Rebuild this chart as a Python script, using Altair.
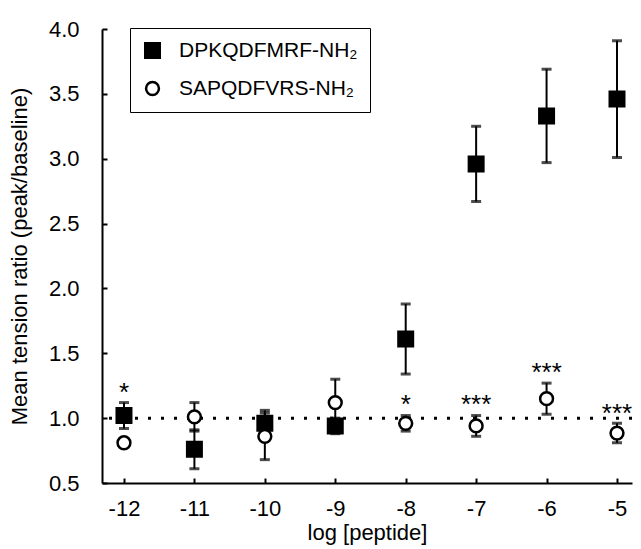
import altair as alt
import pandas as pd

# ---- data ----
log_conc = [-12, -11, -10, -9, -8, -7, -6, -5]
dpk_name = "DPKQDFMRF-NH\u2082"
sap_name = "SAPQDFVRS-NH\u2082"
dpk_mean = [1.02, 0.76, 0.96, 0.94, 1.61, 2.96, 3.33, 3.46]
dpk_sem = [0.10, 0.15, 0.10, 0.06, 0.27, 0.29, 0.36, 0.45]
sap_mean = [0.81, 1.01, 0.86, 1.12, 0.96, 0.94, 1.15, 0.885]
sap_sem = [0.03, 0.11, 0.18, 0.18, 0.06, 0.08, 0.12, 0.075]
star_x = [-12, -8, -7, -6, -5]
star_y = [1.23, 1.14, 1.14, 1.39, 1.07]
star_text = ["*", "*", "***", "***", "***"]
y_ticks = [0.5, 1.0, 1.5, 2.0, 2.5, 3.0, 3.5, 4.0]
baseline = [1.0]

rows = []
for i, x in enumerate(log_conc):
    rows.append({"log": x, "mean": dpk_mean[i], "sem": dpk_sem[i], "series": dpk_name})
for i, x in enumerate(log_conc):
    rows.append({"log": x, "mean": sap_mean[i], "sem": sap_sem[i], "series": sap_name})
df = pd.DataFrame(rows)
df["lo"] = df["mean"] - df["sem"]
df["hi"] = df["mean"] + df["sem"]
df["order"] = range(len(df))

stars = pd.DataFrame({"log": star_x, "y": star_y, "txt": star_text})
base_df = pd.DataFrame({"y": baseline})

FONT = "Liberation Sans"
W, H = 530, 454
xs = alt.Scale(domain=[-12.312, -4.787], nice=False, zero=False)
ys = alt.Scale(domain=[0.5, 4.0], nice=False, zero=False)

x_main = alt.Axis(values=log_conc, ticks=False, tickSize=0, labelExpr="'' + datum.value",
                  labelFont=FONT, labelFontSize=22, labelColor="black", labelPadding=15,
                  title="log [peptide]", titleFont=FONT, titleFontSize=22,
                  titleFontWeight="normal", titleColor="black", titlePadding=3,
                  domainColor="black", domainWidth=2, grid=False)
y_main = alt.Axis(values=y_ticks, ticks=False, tickSize=0, format=".1f",
                  labelFont=FONT, labelFontSize=22, labelColor="black", labelPadding=23,
                  title="Mean tension ratio (peak/baseline)", titleFont=FONT, titleFontSize=22,
                  titleFontWeight="normal", titleColor="black", titlePadding=17,
                  domainColor="black", domainWidth=2, grid=False)
x_ticks_in = alt.Axis(orient="top", offset=-H, values=log_conc, labels=False, domain=False,
                      ticks=True, tickSize=5, tickWidth=2, tickColor="black", title=None, grid=False)
y_ticks_in = alt.Axis(orient="right", offset=-W, values=y_ticks, labels=False, domain=False,
                      ticks=True, tickSize=5, tickWidth=2, tickColor="black", title=None, grid=False)

base = alt.Chart(df)

dotted = alt.Chart(base_df).mark_rule(color="black", strokeWidth=3, strokeDash=[3, 10]).encode(
    y=alt.Y("y:Q", scale=ys, axis=None)
)

bars = base.mark_rule(color="black", strokeWidth=2).encode(
    x=alt.X("log:Q", scale=xs, axis=None),
    y=alt.Y("lo:Q", scale=ys, axis=None),
    y2="hi:Q",
)
cap_lo = base.mark_tick(color="black", orient="horizontal", size=10, thickness=3).encode(
    x=alt.X("log:Q", scale=xs, axis=None),
    y=alt.Y("lo:Q", scale=ys, axis=None),
)
cap_hi = base.mark_tick(color="black", orient="horizontal", size=10, thickness=3).encode(
    x=alt.X("log:Q", scale=xs, axis=None),
    y=alt.Y("hi:Q", scale=ys, axis=None),
)

legend = alt.Legend(title=None, orient="none", legendX=28, legendY=-1,
                    labelFont=FONT, labelFontSize=21, labelColor="black", labelOffset=16,
                    labelLimit=400, padding=12, rowPadding=14, strokeColor="black",
                    symbolStrokeColor="black", symbolStrokeWidth=2.5)
names = [dpk_name, sap_name]
points = base.mark_point(filled=True, strokeWidth=2.5, opacity=1).encode(
    x=alt.X("log:Q", scale=xs, axis=x_main),
    y=alt.Y("mean:Q", scale=ys, axis=y_main),
    shape=alt.Shape("series:N", scale=alt.Scale(domain=names, range=["square", "circle"]), legend=legend),
    fill=alt.Fill("series:N", scale=alt.Scale(domain=names, range=["black", "white"]), legend=legend),
    stroke=alt.Stroke("series:N", scale=alt.Scale(domain=names, range=["black", "black"]), legend=legend),
    size=alt.Size("series:N", scale=alt.Scale(domain=names, range=[210, 165]), legend=legend),
    order=alt.Order("order:Q"),
)

tick_layer = base.mark_point(opacity=0).encode(
    x=alt.X("log:Q", scale=xs, axis=x_ticks_in),
    y=alt.Y("mean:Q", scale=ys, axis=y_ticks_in),
)

star_layer = alt.Chart(stars).mark_text(font=FONT, fontSize=26, color="black",
                                        baseline="middle", dy=5).encode(
    x=alt.X("log:Q", scale=xs, axis=None),
    y=alt.Y("y:Q", scale=ys, axis=None),
    text="txt:N",
)

chart = alt.layer(tick_layer, dotted, bars, cap_lo, cap_hi, points, star_layer).resolve_axis(
    x="independent", y="independent"
).properties(
    width=W, height=H,
    autosize=alt.AutoSizeParams(type="none"),
    padding={"left": 94, "top": 21, "right": 1, "bottom": 66},
    background="white",
).configure_view(stroke=None)

chart.save("out.html", embed_options={"renderer": "svg", "actions": False})
